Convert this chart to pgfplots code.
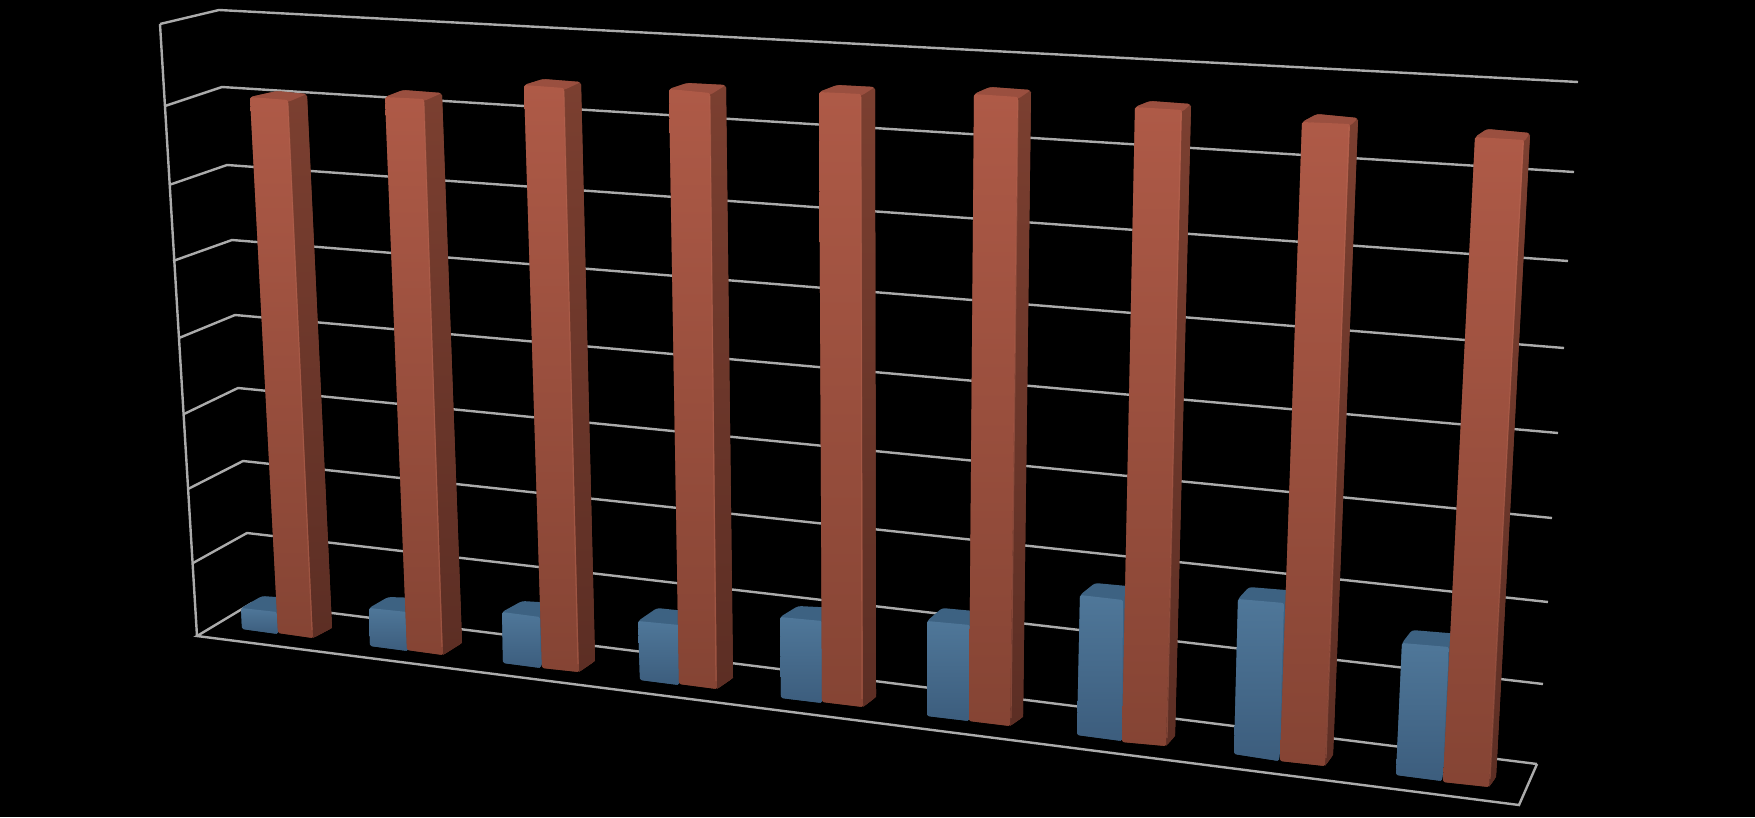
\documentclass[border=0pt]{standalone}
\usepackage{pgfplots}
\pgfplotsset{compat=1.18}
\definecolor{gridc}{HTML}{ABABAB}
\definecolor{rft}{HTML}{AE5A47}
\definecolor{rfb}{HTML}{854434}
\definecolor{rst}{HTML}{7B3F30}
\definecolor{rsb}{HTML}{5C2E24}
\definecolor{rtop}{HTML}{9A4F3F}
\definecolor{rhi}{HTML}{BC6A55}
\definecolor{bft}{HTML}{4F7799}
\definecolor{bfb}{HTML}{3C5D7D}
\definecolor{btop}{HTML}{3D6282}
\tikzset{
  grd/.style={draw=gridc,line width=2.4pt},
  Rb/.style={draw=none,fill=rst,rounded corners=3pt},
  Rf/.style={draw=none,top color=rft,bottom color=rfb,rounded corners=1.5pt},
  Rs/.style={draw=none,top color=rst,bottom color=rsb},
  Rt/.style={draw=none,fill=rtop,rounded corners=3pt},
  Rh/.style={draw=rhi,opacity=.4,line width=1.2pt},
  Bb/.style={draw=none,fill=btop,rounded corners=3pt},
  Bf/.style={draw=none,top color=bft,bottom color=bfb,rounded corners=1.5pt},
  Bt/.style={draw=none,fill=btop,rounded corners=3pt}
}
\begin{document}
\begin{tikzpicture}
\begin{axis}[
  scale only axis,width=1755pt,height=817pt,
  xmin=0,xmax=1755,ymin=0,ymax=817,y dir=reverse,
  hide axis,no markers,clip=true,
]
\addplot[draw=none,fill=black] coordinates {(0,0)(1755,0)(1755,817)(0,817)} --cycle;
% back wall and side wall gridlines: front-left, back-left, right end
\addplot[grd] coordinates {(160,24)(219,10)(1578,82)};
\addplot[grd] coordinates {(165,106)(222,87)(1574,172)};
\addplot[grd] coordinates {(169,185)(227,165)(1568,261)};
\addplot[grd] coordinates {(173,261)(232,240)(1564,348)};
\addplot[grd] coordinates {(179,338)(235,315)(1558,433)};
\addplot[grd] coordinates {(184,414)(238,388)(1552,518)};
\addplot[grd] coordinates {(188,489)(243,461)(1548,602)};
\addplot[grd] coordinates {(193,563)(247,533)(1543,684)};
\addplot[grd] coordinates {(160,24)(197,636)};
\addplot[grd] coordinates {(1537,764)(252,603)(197,636)(1519,805)(1537,764)};
% Series 1, blue: silhouette, front
\addplot[Bb] coordinates {(241,608)(262,596)(290,598)(278,634)(242,629)} --cycle;
\addplot[Bf] coordinates {(241,608)(277,612)(278,634)(242,629)} --cycle;
\addplot[Bb] coordinates {(369,608)(388,597)(420,598)(408,651)(370,646)} --cycle;
\addplot[Bf] coordinates {(369,608)(407,612)(408,651)(370,646)} --cycle;
\addplot[Bb] coordinates {(502,612)(522,601)(555,603)(541,668)(503,663)} --cycle;
\addplot[Bf] coordinates {(502,612)(540,617)(541,668)(503,663)} --cycle;
\addplot[Bb] coordinates {(638,621)(657,608)(695,612)(679,685)(640,680)} --cycle;
\addplot[Bf] coordinates {(638,621)(679,625)(679,685)(640,680)} --cycle;
\addplot[Bb] coordinates {(780,617)(798,606)(838,608)(822,703)(781,698)} --cycle;
\addplot[Bf] coordinates {(780,617)(822,621)(822,703)(781,698)} --cycle;
\addplot[Bb] coordinates {(927,621)(942,608)(985,612)(969,721)(927,716)} --cycle;
\addplot[Bf] coordinates {(927,621)(970,625)(969,721)(927,716)} --cycle;
\addplot[Bb] coordinates {(1080,595)(1095,583)(1138,587)(1122,741)(1077,735)} --cycle;
\addplot[Bf] coordinates {(1080,595)(1123,600)(1122,741)(1077,735)} --cycle;
\addplot[Bb] coordinates {(1238,599)(1249,587)(1298,591)(1279,761)(1234,754)} --cycle;
\addplot[Bf] coordinates {(1238,599)(1284,603)(1279,761)(1234,754)} --cycle;
\addplot[Bb] coordinates {(1402,643)(1412,630)(1460,634)(1442,781)(1396,775)} --cycle;
\addplot[Bf] coordinates {(1402,643)(1449,647)(1442,781)(1396,775)} --cycle;
% Series 2, red: silhouette, side, top, front, highlight
\addplot[Rb] coordinates {(250,97)(277,91)(307,94)(332,628)(313,638)(278,633)} --cycle;
\addplot[Rs] coordinates {(288,100)(307,96)(332,628)(313,638)} --cycle;
\addplot[Rt] coordinates {(250,97)(277,91)(307,94)(288,102)} --cycle;
\addplot[Rf] coordinates {(250,97)(288,100)(313,638)(278,633)} --cycle;
\addplot[Rh] coordinates {(288,103)(312,630)};
\addplot[Rb] coordinates {(385,97)(403,90)(442,93)(462,643)(443,655)(407,650)} --cycle;
\addplot[Rs] coordinates {(424,99)(442,95)(462,643)(443,655)} --cycle;
\addplot[Rt] coordinates {(385,97)(403,90)(442,93)(424,101)} --cycle;
\addplot[Rf] coordinates {(385,97)(424,99)(443,655)(407,650)} --cycle;
\addplot[Rh] coordinates {(424,102)(442,647)};
\addplot[Rb] coordinates {(524,85)(543,79)(581,82)(595,661)(579,672)(542,668)} --cycle;
\addplot[Rs] coordinates {(564,88)(581,84)(595,661)(579,672)} --cycle;
\addplot[Rt] coordinates {(524,85)(543,79)(581,82)(564,90)} --cycle;
\addplot[Rf] coordinates {(524,85)(564,88)(579,672)(542,668)} --cycle;
\addplot[Rh] coordinates {(564,91)(578,664)};
\addplot[Rb] coordinates {(669,89)(687,83)(726,85)(733,678)(717,689)(679,684)} --cycle;
\addplot[Rs] coordinates {(710,93)(726,87)(733,678)(717,689)} --cycle;
\addplot[Rt] coordinates {(669,89)(687,83)(726,85)(710,95)} --cycle;
\addplot[Rf] coordinates {(669,89)(710,93)(717,689)(679,684)} --cycle;
\addplot[Rh] coordinates {(710,96)(716,681)};
\addplot[Rb] coordinates {(819,92)(837,85)(875,87)(876,697)(863,707)(822,702)} --cycle;
\addplot[Rs] coordinates {(861,94)(875,89)(876,697)(863,707)} --cycle;
\addplot[Rt] coordinates {(819,92)(837,85)(875,87)(861,96)} --cycle;
\addplot[Rf] coordinates {(819,92)(861,94)(863,707)(822,702)} --cycle;
\addplot[Rh] coordinates {(861,97)(862,699)};
\addplot[Rb] coordinates {(974,94)(990,87)(1031,90)(1023,717)(1010,726)(969,721)} --cycle;
\addplot[Rs] coordinates {(1018,97)(1031,92)(1023,717)(1010,726)} --cycle;
\addplot[Rt] coordinates {(974,94)(990,87)(1031,90)(1018,99)} --cycle;
\addplot[Rf] coordinates {(974,94)(1018,97)(1010,726)(969,721)} --cycle;
\addplot[Rh] coordinates {(1018,100)(1011,718)};
\addplot[Rb] coordinates {(1135,107)(1150,101)(1191,104)(1175,736)(1166,746)(1122,742)} --cycle;
\addplot[Rs] coordinates {(1182,110)(1191,106)(1175,736)(1166,746)} --cycle;
\addplot[Rt] coordinates {(1135,107)(1150,101)(1191,104)(1182,112)} --cycle;
\addplot[Rf] coordinates {(1135,107)(1182,110)(1166,746)(1122,742)} --cycle;
\addplot[Rh] coordinates {(1181,113)(1167,738)};
\addplot[Rb] coordinates {(1302,122)(1317,114)(1358,118)(1333,755)(1325,766)(1280,761)} --cycle;
\addplot[Rs] coordinates {(1350,124)(1358,120)(1333,755)(1325,766)} --cycle;
\addplot[Rt] coordinates {(1302,122)(1317,114)(1358,118)(1350,126)} --cycle;
\addplot[Rf] coordinates {(1302,122)(1350,124)(1325,766)(1280,761)} --cycle;
\addplot[Rh] coordinates {(1349,127)(1326,758)};
\addplot[Rb] coordinates {(1475,137)(1487,129)(1530,133)(1496,777)(1489,787)(1443,782)} --cycle;
\addplot[Rs] coordinates {(1524,140)(1530,135)(1496,777)(1489,787)} --cycle;
\addplot[Rt] coordinates {(1475,137)(1487,129)(1530,133)(1524,142)} --cycle;
\addplot[Rf] coordinates {(1475,137)(1524,140)(1489,787)(1443,782)} --cycle;
\addplot[Rh] coordinates {(1523,143)(1490,779)};
\end{axis}
\end{tikzpicture}
\end{document}
